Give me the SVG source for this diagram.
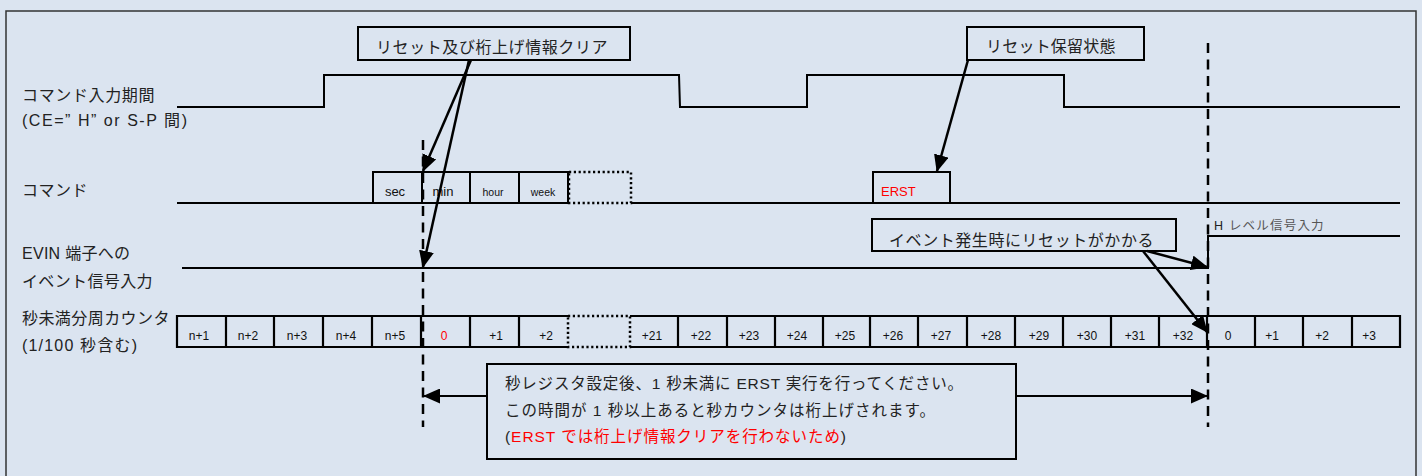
<svg xmlns="http://www.w3.org/2000/svg" width="1422" height="476" viewBox="0 0 1422 476">
<style>
.bg{fill:#dbe4f0}
.ln{fill:none;stroke:#000;stroke-width:2}
.box{fill:#dbe4f0;stroke:#000;stroke-width:2}
.dot{fill:none;stroke:#000;stroke-width:2.5;stroke-dasharray:2.2 2.6}
.dash{fill:none;stroke:#000;stroke-width:2.5;stroke-dasharray:10 6.5}
.arr{fill:none;stroke:#000;stroke-width:2.5}
.lbl{font-family:"Liberation Sans","Noto Sans CJK JP",sans-serif;font-size:16px;fill:#222}
.cj{font-family:"Noto Sans CJK JP","Liberation Sans",sans-serif;font-size:16px;letter-spacing:0.5px;fill:#222}
.note{font-family:"Liberation Sans","Noto Sans CJK JP",sans-serif;font-size:15.5px;fill:#222}
.cell{font-family:"Liberation Sans",Arial,sans-serif;font-size:12px;fill:#111;text-anchor:middle}
.cmd{font-family:"Liberation Sans",Arial,sans-serif;font-size:13px;fill:#111;text-anchor:middle}
.sm{font-size:10.5px}
.red{fill:#ff0000}
</style>
<defs>
<marker id="ah" markerUnits="userSpaceOnUse" markerWidth="17" markerHeight="15" refX="16" refY="7.5" orient="auto">
<path d="M0,0 L17,7.5 L0,15 z" fill="#000"/>
</marker>
</defs>
<rect class="bg" x="0" y="0" width="1422" height="476"/>
<rect x="6" y="11" width="1410" height="470" fill="none" stroke="#333" stroke-width="1.5"/>

<g id="labels">
<text class="cj" x="22" y="101" textLength="133">コマンド入力期間</text>
<text class="lbl" x="22" y="126" textLength="165">(CE=” H” or S-P 間)</text>
<text class="cj" x="22" y="196" textLength="66">コマンド</text>
<text class="lbl" x="22" y="259" textLength="108">EVIN 端子への</text>
<text class="cj" x="22" y="287" textLength="131">イベント信号入力</text>
<text class="cj" x="22" y="324" textLength="148">秒未満分周カウンタ</text>
<text class="lbl" x="22" y="351" textLength="115">(1/100 秒含む)</text>
</g>

<g id="wave-command-period">
<path class="ln" d="M177,107 H324 V75 H679 L680,107 H807 V75 H1064 V107 H1400"/>
</g>

<g id="command-row">
<path class="ln" d="M177,203 H568 M631,203 H1400"/>
<rect class="box" x="373" y="172" width="49" height="31"/>
<rect class="box" x="422" y="172" width="48" height="31"/>
<rect class="box" x="470" y="172" width="49" height="31"/>
<rect class="box" x="519" y="172" width="49" height="31"/>
<rect class="dot" x="569" y="172" width="62" height="31"/>
<text class="cmd" x="395" y="196">sec</text>
<text class="cmd" x="443" y="196">min</text>
<text class="cmd sm" x="493" y="196">hour</text>
<text class="cmd sm" x="543" y="196">week</text>
</g>

<g id="erst">
<rect class="box" x="873" y="172" width="77" height="31"/>
<text class="cmd red" x="881" y="196" style="text-anchor:start">ERST</text>
</g>

<g id="wave-evin">
<path class="ln" d="M182,268 H1208 V236 H1400"/>
<text x="1214" y="230" style="font-family:'Liberation Sans','Noto Sans CJK JP',sans-serif;font-size:12.5px;letter-spacing:1.2px;fill:#555"><tspan fill="#222">H</tspan> レベル信号入力</text>
</g>

<g id="counter-row">
<path class="ln" style="stroke-width:2.2" d="M568,316 H177 V347 H568 M630,316 H1400 V347 H630
M226,316 V347 M274,316 V347 M323,316 V347 M372,316 V347 M421,316 V347 M470,316 V347 M519,316 V347
M678,316 V347 M727,316 V347 M775,316 V347 M823,316 V347 M870,316 V347 M918,316 V347 M967,316 V347
M1015,316 V347 M1063,316 V347 M1111,316 V347 M1159,316 V347 M1207,316 V347 M1255,316 V347 M1303,316 V347 M1352,316 V347"/>
<rect class="dot" x="568" y="316" width="62" height="31"/>
<text class="cell" x="199" y="340">n+1</text>
<text class="cell" x="248" y="340">n+2</text>
<text class="cell" x="297" y="340">n+3</text>
<text class="cell" x="346" y="340">n+4</text>
<text class="cell" x="395" y="340">n+5</text>
<text class="cell red" x="444" y="340">0</text>
<text class="cell" x="496" y="340">+1</text>
<text class="cell" x="546" y="340">+2</text>
<text class="cell" x="652" y="340">+21</text>
<text class="cell" x="701" y="340">+22</text>
<text class="cell" x="749" y="340">+23</text>
<text class="cell" x="797" y="340">+24</text>
<text class="cell" x="845" y="340">+25</text>
<text class="cell" x="893" y="340">+26</text>
<text class="cell" x="941" y="340">+27</text>
<text class="cell" x="991" y="340">+28</text>
<text class="cell" x="1039" y="340">+29</text>
<text class="cell" x="1087" y="340">+30</text>
<text class="cell" x="1135" y="340">+31</text>
<text class="cell" x="1183" y="340">+32</text>
<text class="cell" x="1228" y="340">0</text>
<text class="cell" x="1272" y="340">+1</text>
<text class="cell" x="1322" y="340">+2</text>
<text class="cell" x="1369" y="340">+3</text>
</g>

<g id="timing-markers">
<line class="dash" x1="423" y1="140" x2="423" y2="427"/>
<line class="dash" x1="1208" y1="43" x2="1208" y2="427"/>
</g>

<g id="callout-clear">
<rect class="box" x="358" y="27" width="272" height="33"/>
<text class="cj" x="376" y="53" textLength="232">リセット及び桁上げ情報クリア</text>
</g>

<g id="callout-hold">
<rect class="box" x="967" y="27" width="177" height="33"/>
<text class="cj" x="986" y="52" textLength="130">リセット保留状態</text>
</g>

<g id="callout-event">
<rect class="box" x="872" y="219" width="304" height="32"/>
<text class="cj" x="889" y="246" textLength="265">イベント発生時にリセットがかかる</text>
</g>

<g id="note">
<rect class="box" x="487" y="364" width="529" height="95"/>
<text class="note" x="505" y="389" textLength="458">秒レジスタ設定後、1 秒未満に ERST 実行を行ってください。</text>
<text class="note" x="505" y="416" textLength="430">この時間が 1 秒以上あると秒カウンタは桁上げされます。</text>
<text class="note" x="505" y="442" textLength="341">(<tspan class="red">ERST では桁上げ情報クリアを行わないため</tspan>)</text>
</g>

<g id="connectors">
<line class="arr" x1="471" y1="60" x2="423" y2="171" marker-end="url(#ah)"/>
<line class="arr" x1="469" y1="60" x2="423" y2="267" marker-end="url(#ah)"/>
<line class="arr" x1="968" y1="60" x2="937" y2="171" marker-end="url(#ah)"/>
<line class="arr" x1="1147" y1="251" x2="1207" y2="267" marker-end="url(#ah)"/>
<line class="arr" x1="1143" y1="251" x2="1207" y2="332" marker-end="url(#ah)"/>
<line class="arr" style="stroke-width:2" x1="487" y1="396" x2="424" y2="396" marker-end="url(#ah)"/>
<line class="arr" style="stroke-width:2" x1="1016" y1="396" x2="1207" y2="396" marker-end="url(#ah)"/>
</g>
</svg>
